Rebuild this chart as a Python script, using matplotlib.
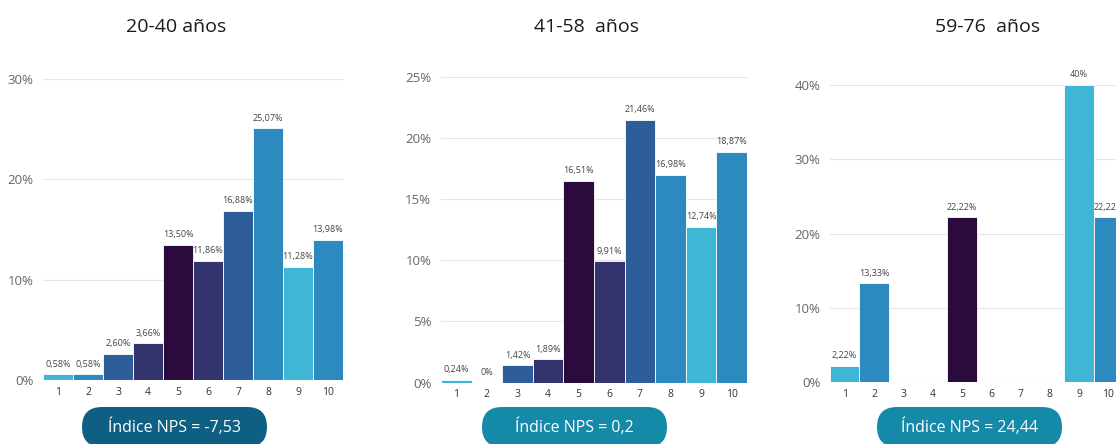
import matplotlib
matplotlib.use("Agg")
import matplotlib.pyplot as plt
from matplotlib.patches import FancyBboxPatch
from matplotlib.ticker import FuncFormatter, MultipleLocator

plt.rcParams["font.family"] = ["Open Sans", "DejaVu Sans"]

# puntuaciones 1-10 y porcentaje de respuestas por grupo de edad
scores = list(range(1, 11))
pct_20_40 = [0.58, 0.58, 2.60, 3.66, 13.50, 11.86, 16.88, 25.07, 11.28, 13.98]
pct_41_58 = [0.24, 0, 1.42, 1.89, 16.51, 9.91, 21.46, 16.98, 12.74, 18.87]
pct_59_76 = [2.22, 13.33, 0, 0, 22.22, 0, 0, 0, 40, 22.22]

titles = ["20-40 años", "41-58  años", "59-76  años"]
nps_labels = ["Índice NPS = -7,53", "Índice NPS = 0,2", "Índice NPS = 24,44"]

# colores de barra por puntuación
bar_colors = ["#40B6D6", "#2C8ABE", "#2E5E99", "#33346E", "#2B0A3D",
              "#33346E", "#2E5E99", "#2C8ABE", "#40B6D6", "#2C8ABE"]
pill_colors = ["#0F5F82", "#1589A8", "#1589A8"]

W, H = 1116, 444

# posiciones de los paneles en píxeles: (izq, arriba, ancho, abajo)
panels = [
    dict(data=pct_20_40, box=(43, 79, 300, 380), ymax=30, step=10, zeros=True,
         title_x=176, pill_x=82),
    dict(data=pct_41_58, box=(441, 76.7, 306, 382.5), ymax=25, step=5, zeros=True,
         title_x=586, pill_x=482),
    dict(data=pct_59_76, box=(830, 85, 293, 382.3), ymax=40, step=10, zeros=False,
         title_x=988, pill_x=877),
]


def fmt_pct(v):
    if float(v).is_integer():
        return f"{int(v)}%"
    return f"{v:.2f}%".replace(".", ",")


fig = plt.figure(figsize=(W / 100, H / 100), dpi=100)

for p in panels:
    left, top, width, bottom = p["box"]
    ax = fig.add_axes([left / W, (H - bottom) / H, width / W, (bottom - top) / H])
    bars = ax.bar(scores, p["data"], width=1.0, color=bar_colors,
                  edgecolor="white", linewidth=0.6, zorder=3)
    for b, v in zip(bars, p["data"]):
        if v == 0 and not p["zeros"]:
            continue
        ax.annotate(fmt_pct(v), (b.get_x() + b.get_width() / 2, v),
                    xytext=(0, 4), textcoords="offset points",
                    ha="center", va="bottom", fontsize=6.5, color="#444444")
    ax.set_xlim(0.5, 10.5)
    ax.set_ylim(0, p["ymax"])
    ax.yaxis.set_major_locator(MultipleLocator(p["step"]))
    ax.yaxis.set_major_formatter(FuncFormatter(lambda y, _: f"{y:.0f}%"))
    ax.set_xticks(scores)
    ax.grid(axis="y", color="#E6E6E6", linewidth=0.8, zorder=0)
    for s in ax.spines.values():
        s.set_visible(False)
    ax.tick_params(axis="y", length=0, pad=7, labelsize=9.5, labelcolor="#666666")
    ax.tick_params(axis="x", length=0, pad=5, labelsize=7.5, labelcolor="#333333")

# capa superior para títulos y etiquetas NPS, en píxeles
over = fig.add_axes([0, 0, 1, 1])
over.set_xlim(0, W)
over.set_ylim(H, 0)
over.axis("off")

pill_w, pill_h = 185, 40
for p, t, lab, col in zip(panels, titles, nps_labels, pill_colors):
    over.text(p["title_x"], 27, t, ha="center", va="center",
              fontsize=14, color="#1A1A1A")
    x0 = p["pill_x"]
    over.add_patch(FancyBboxPatch((x0, 407), pill_w, pill_h,
                                  boxstyle="round,pad=0,rounding_size=20",
                                  facecolor=col, edgecolor="none"))
    over.text(x0 + pill_w / 2, 427, lab, ha="center", va="center",
              fontsize=11.5, color="white")

fig.savefig("out.png", dpi=100)
